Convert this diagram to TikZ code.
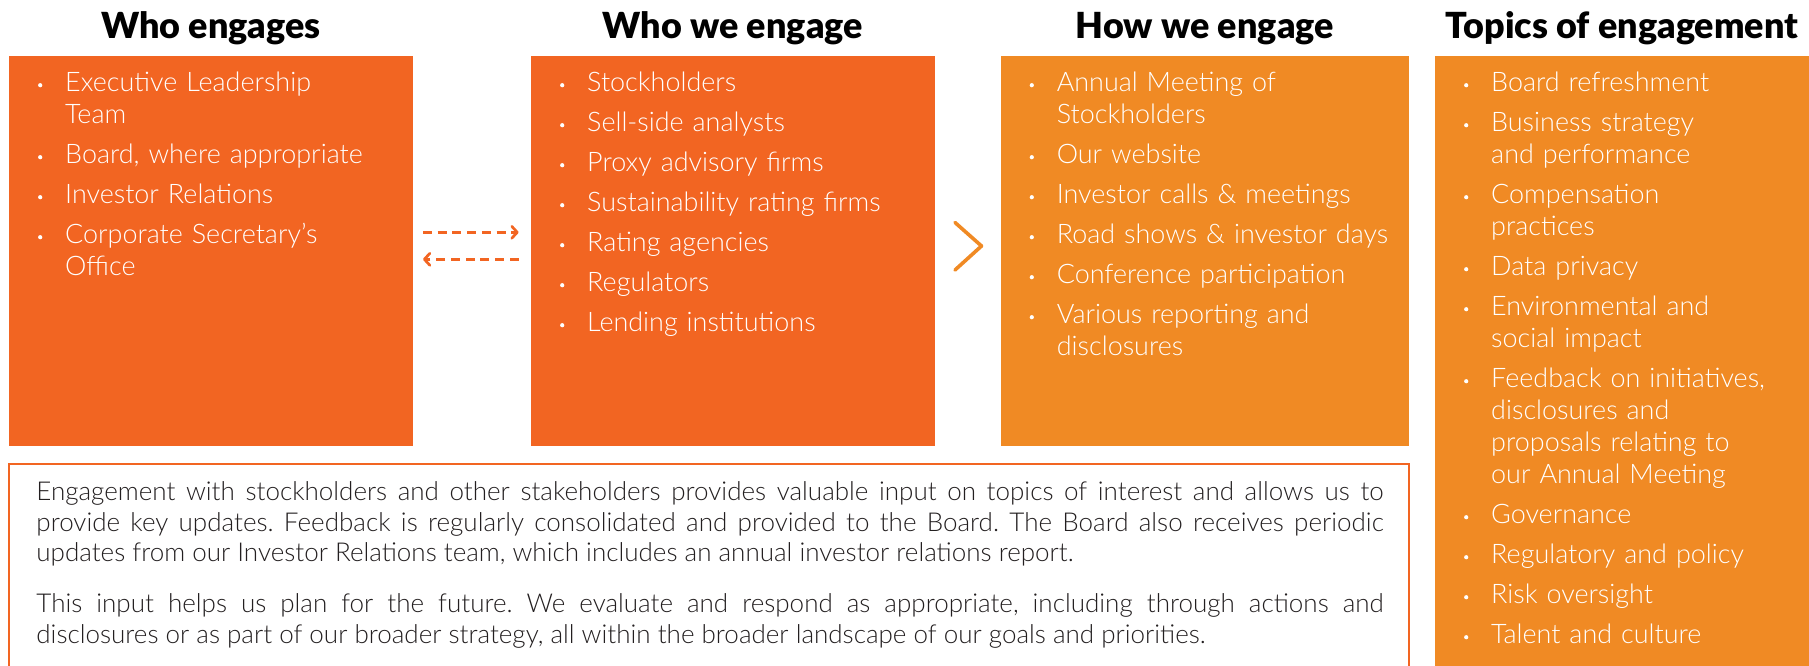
\documentclass[tikz,border=0pt]{standalone}
\usepackage{fontspec}
\setmainfont{Lato}[UprightFont={* Light}, BoldFont={* Black}]
\usetikzlibrary{arrows.meta,calc}
\definecolor{orA}{HTML}{F26522}
\definecolor{orB}{HTML}{F08A24}
\definecolor{txtc}{HTML}{231F20}
\newlength\fitw
\newlength\fitv
\newcommand\bul{\leavevmode\llap{\tikz[baseline=0pt]\fill[white] (0pt,6.7pt) circle (2.1pt);\hspace{22.9pt}}}
\newcommand\topstrut{\rule{0pt}{22pt}}
\setlength\parindent{0pt}
\begin{document}
\settowidth\fitw{\fontsize{10pt}{12pt}\selectfont Sustainability rating firms}%
\pgfmathsetmacro\lfs{10*290/\fitw}%
\settowidth\fitw{\bfseries\fontsize{10pt}{12pt}\selectfont Who engages}%
\settowidth\fitv{\bfseries\fontsize{10pt}{12pt}\selectfont Topics of engagement}%
\pgfmathsetmacro\tfs{10*572/(\fitw+\fitv)}%
\settowidth\fitw{\fontsize{10pt}{12pt}\selectfont\frenchspacing updates from our Investor Relations team, which includes an annual investor relations report.}%
\pgfmathsetmacro\bfs{10*1037/\fitw}%
\begin{tikzpicture}[x=1pt,y=-1pt,
  panel/.style={inner sep=0pt, outer sep=0pt, anchor=north west, minimum height=390pt},
  panelA/.style={panel, fill=orA},
  panelB/.style={panel, fill=orB},
  heading/.style={font=\bfseries\fontsize{\tfs pt}{\tfs pt}\selectfont, text=black, anchor=base, inner sep=0pt},
  bullets/.style={font=\fontsize{\lfs pt}{32pt}\selectfont, text=white, align=left, text width=345pt, anchor=north west, inner sep=0pt},
  dasharrow/.style={draw=orA, line width=2.7pt, dash pattern=on 9pt off 5.7pt, -{Straight Barb[length=5.5pt,width=12pt,round]}},
  chevron/.style={draw=orB, line width=3.6pt, line cap=round, line join=round},
  framebox/.style={draw=orA, line width=2.4pt, fill=white, inner sep=0pt, outer sep=0pt, anchor=north west},
  summary/.style={anchor=north west, inner sep=0pt, text width=1347pt, align=justify, text=txtc, font=\fontsize{\bfs pt}{30.8pt}\selectfont\frenchspacing\sloppy},
]
\path[use as bounding box, clip] (0,0) rectangle (1809,666);

% panels
\node[panelA, minimum width=404pt] (b1) at (9,56) {};
\node[panelA, minimum width=403.5pt] (b2) at (531,56) {};
\node[panelB, minimum width=408.4pt] (b3) at (1000.6,56) {};
\node[panelB, minimum width=374pt, minimum height=620pt] (b4) at (1435,56) {};

% headings
\node[heading] (t1) at ($(b1.north)+(0,-17.7)$) {Who engages};
\node[heading] (t2) at ($(b2.north)+(0,-17.7)$) {Who we engage};
\node[heading] (t3) at ($(b3.north)+(0,-17.7)$) {How we engage};
\node[heading] (t4) at ($(b4.north)+(0,-17.7)$) {Topics of engagement};

% lists
\node[bullets] (l1) at ($(b1.north west)+(56,13.7)$) {\topstrut\bul Executive Leadership\\ Team\\[8pt]\bul Board, where appropriate\\[8pt]\bul Investor Relations\\[8pt]\bul Corporate Secretary’s\\ Office};
\node[bullets] (l2) at ($(b2.north west)+(56,13.7)$) {\topstrut\bul Stockholders\\[8pt]\bul Sell-side analysts\\[8pt]\bul Proxy advisory firms\\[8pt]\bul Sustainability rating firms\\[8pt]\bul Rating agencies\\[8pt]\bul Regulators\\[8pt]\bul Lending institutions};
\node[bullets] (l3) at ($(b3.north west)+(56,13.7)$) {\topstrut\bul Annual Meeting of\\ Stockholders\\[8pt]\bul Our website\\[8pt]\bul Investor calls \& meetings\\[8pt]\bul Road shows \& investor days\\[8pt]\bul Conference participation\\[8pt]\bul Various reporting and\\ disclosures};
\node[bullets] (l4) at ($(b4.north west)+(56,13.7)$) {\topstrut\bul Board refreshment\\[8pt]\bul Business strategy\\ and performance\\[8pt]\bul Compensation\\ practices\\[8pt]\bul Data privacy\\[8pt]\bul Environmental and\\ social impact\\[8pt]\bul Feedback on initiatives,\\ disclosures and\\ proposals relating to\\ our Annual Meeting\\[8pt]\bul Governance\\[8pt]\bul Regulatory and policy\\[8pt]\bul Risk oversight\\[8pt]\bul Talent and culture};

% connectors between the first two panels
\draw[dasharrow] ($(b1.north east)+(10,176.3)$) -- ($(b2.north west)+(-12.4,176.3)$);
\draw[dasharrow] ($(b2.north west)+(-12.4,203.3)$) -- ($(b1.north east)+(10,203.3)$);

% chevron between second and third panels
\draw[chevron] ($(b2.north east)+(20.5,166.5)$) -- ($(b2.north east)+(47,190)$) -- ($(b2.north east)+(20.5,214)$);

% bottom summary frame
\node[framebox, minimum width=1400pt, minimum height=240pt] (sumbox) at (9,464) {};
\node[summary] (sum) at ($(sumbox.north west)+(27.2,14)$) {\topstrut Engagement with stockholders and other stakeholders provides valuable input on topics of interest and allows us to\linebreak provide key updates. Feedback is regularly consolidated and provided to the Board. The Board also receives periodic\linebreak updates from our Investor Relations team, which includes an annual investor relations report.\\[19.7pt]This input helps us plan for the future. We evaluate and respond as appropriate, including through actions and\linebreak disclosures or as part of our broader strategy, all within the broader landscape of our goals and priorities.};
\end{tikzpicture}
\end{document}
